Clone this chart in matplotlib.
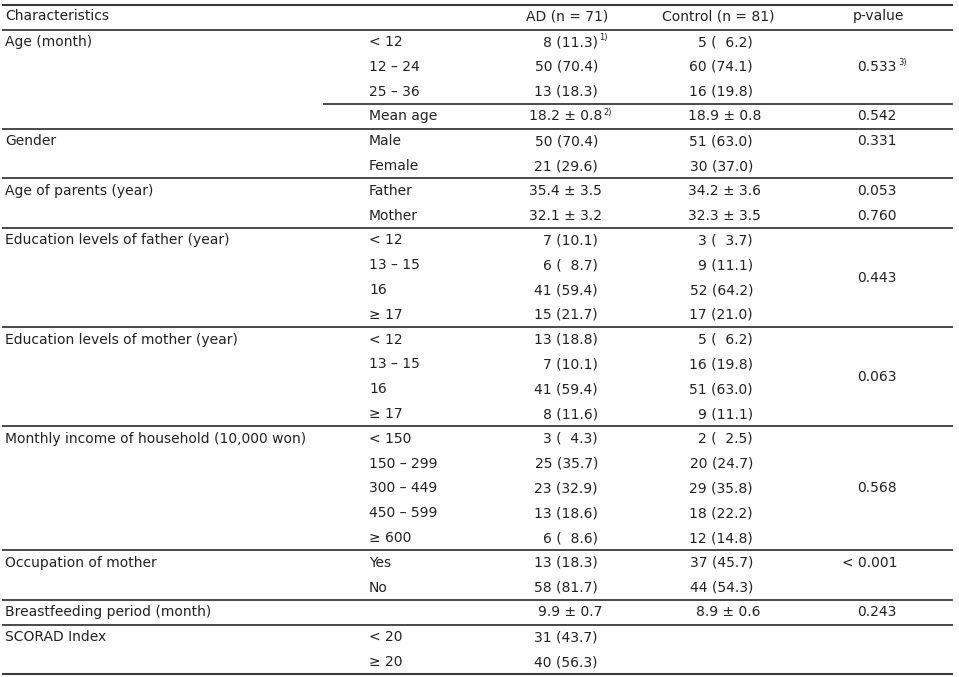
import matplotlib.pyplot as plt
import matplotlib as mpl

# --- Table content ---
header = ["Characteristics", "AD (n = 71)", "Control (n = 81)", "p-value"]

char_labels = ["Age (month)", "Gender", "Age of parents (year)",
               "Education levels of father (year)", "Education levels of mother (year)",
               "Monthly income of household (10,000 won)", "Occupation of mother",
               "Breastfeeding period (month)", "SCORAD Index"]
char_sizes = [4, 2, 2, 4, 4, 5, 2, 1, 2]

sub_labels = ["< 12", "12 – 24", "25 – 36", "Mean age", "Male", "Female", "Father", "Mother",
              "< 12", "13 – 15", "16", "≥ 17", "< 12", "13 – 15", "16", "≥ 17",
              "< 150", "150 – 299", "300 – 449", "450 – 599", "≥ 600", "Yes", "No", "",
              "< 20", "≥ 20"]

ad_values = ["8 (11.3)", "50 (70.4)", "13 (18.3)", "18.2 ± 0.8", "50 (70.4)", "21 (29.6)",
             "35.4 ± 3.5", "32.1 ± 3.2", "7 (10.1)", "6 (  8.7)", "41 (59.4)", "15 (21.7)",
             "13 (18.8)", "7 (10.1)", "41 (59.4)", "8 (11.6)", "3 (  4.3)", "25 (35.7)",
             "23 (32.9)", "13 (18.6)", "6 (  8.6)", "13 (18.3)", "58 (81.7)", "9.9 ± 0.7",
             "31 (43.7)", "40 (56.3)"]

control_values = ["5 (  6.2)", "60 (74.1)", "16 (19.8)", "18.9 ± 0.8", "51 (63.0)", "30 (37.0)",
                  "34.2 ± 3.6", "32.3 ± 3.5", "3 (  3.7)", "9 (11.1)", "52 (64.2)", "17 (21.0)",
                  "5 (  6.2)", "16 (19.8)", "51 (63.0)", "9 (11.1)", "2 (  2.5)", "20 (24.7)",
                  "29 (35.8)", "18 (22.2)", "12 (14.8)", "37 (45.7)", "44 (54.3)", "8.9 ± 0.6",
                  "", ""]

p_values = ["0.533", "0.542", "0.331", "0.053", "0.760", "0.443", "0.063", "0.568", "< 0.001", "0.243"]
p_rows = [1, 3, 4, 6, 7, 9.5, 13.5, 18, 21, 23]

# footnote marks: (column, row, mark)
footnotes = [("ad", 0, "1)"), ("ad", 3, "2)"), ("p", 1, "3)")]

# --- Layout (pixel space) ---
W, H = 959, 677
y_head = 16
y0 = 42
dy = 24.8
x_char, x_sub = 5, 369
x_ad, x_ctrl, x_p = 598, 753, 897
x_ad_pm, x_ctrl_pm = 602, 761
x_line0, x_line1 = 2, 953
x_partial = 323

txt = '#222222'
line_col = '#3a3a3a'
fs = 10

mpl.rcParams['font.family'] = ['DejaVu Sans']

fig = plt.figure(figsize=(W / 100, H / 100), dpi=100)
ax = fig.add_axes([0, 0, 1, 1])
ax.set_xlim(0, W)
ax.set_ylim(H, 0)
ax.axis('off')


def row_y(i):
    return y0 + i * dy


def hline(y, x_start=x_line0, lw=1.3):
    ax.plot([x_start, x_line1], [y, y], color=line_col, lw=lw, solid_capstyle='butt')


# header
ax.text(x_char, y_head, header[0], fontsize=fs, color=txt, va='center', ha='left')
ax.text(567, y_head, header[1], fontsize=fs, color=txt, va='center', ha='center')
ax.text(718, y_head, header[2], fontsize=fs, color=txt, va='center', ha='center')
ax.text(878, y_head, header[3], fontsize=fs, color=txt, va='center', ha='center')

# rules
hline(5, lw=1.5)
hline((y_head + y0) / 2 + 0.5)
n_rows = len(sub_labels)
start = 0
for size in char_sizes:
    end = start + size
    hline(row_y(end - 0.5), lw=1.5 if end == n_rows else 1.3)
    start = end
hline(row_y(2.5), x_start=x_partial)
# separator between Mean age and the categories is partial; the line after Age group
# categories (row 3) is already drawn above as group end of size 4

# characteristic labels
start = 0
for label, size in zip(char_labels, char_sizes):
    ax.text(x_char, row_y(start), label, fontsize=fs, color=txt, va='center', ha='left')
    start += size

# rows
for i, (sub, ad, ctrl) in enumerate(zip(sub_labels, ad_values, control_values)):
    y = row_y(i)
    ax.text(x_sub, y, sub, fontsize=fs, color=txt, va='center', ha='left')
    ax.text(x_ad_pm if '±' in ad else x_ad, y, ad, fontsize=fs, color=txt, va='center', ha='right')
    ax.text(x_ctrl_pm if '±' in ctrl else x_ctrl, y, ctrl, fontsize=fs, color=txt, va='center', ha='right')

for p, r in zip(p_values, p_rows):
    ax.text(x_p, row_y(r), p, fontsize=fs, color=txt, va='center', ha='right')

# footnote superscripts
for col, r, mark in footnotes:
    if col == 'ad':
        x = x_ad_pm if '±' in ad_values[r] else x_ad
    else:
        x = x_p
    ax.annotate(mark, (x, row_y(r)), xytext=(1, 3), textcoords='offset points',
                fontsize=6, color=txt, va='center', ha='left')

fig.savefig('out.png', dpi=100, facecolor='white')
